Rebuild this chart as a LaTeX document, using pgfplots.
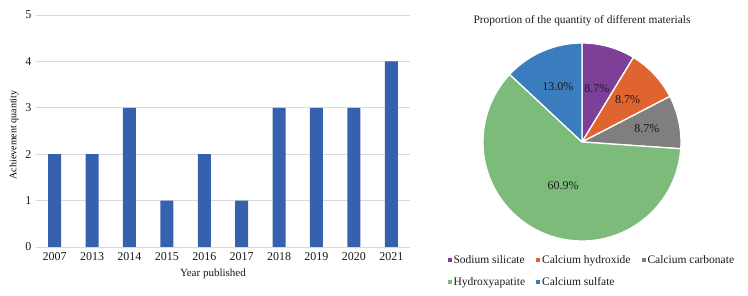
\documentclass[border=0pt]{standalone}
\usepackage{fontspec}
\setmainfont{Liberation Serif}
\usepackage{pgfplots}
\pgfplotsset{compat=1.18}
\definecolor{barblue}{HTML}{3561AF}
\definecolor{cpurp}{HTML}{7E3F98}
\definecolor{corange}{HTML}{E0642F}
\definecolor{cgray}{HTML}{7F7F7F}
\definecolor{cgreen}{HTML}{7DBB7B}
\definecolor{cblue}{HTML}{3A7DBE}
\definecolor{gridgray}{HTML}{D9D9D9}
\definecolor{txt}{HTML}{1A1A1A}
% slice: #1 cumulative start count, #2 cumulative end count, #3 colour, #4 label radius, #5 label
\newcommand\pieslice[5]{%
  \filldraw[fill=#3, draw=white, line width=1.3pt, line join=round]
    (axis cs:0,0) -- (axis cs:{cos(90-#1/23*360)},{sin(90-#1/23*360)})
    arc[start angle={90-#1/23*360}, end angle={90-#2/23*360}, radius=99pt] -- cycle;
  \node[font=\fontsize{12}{14}\selectfont, text=txt] at (axis cs:{#4*cos(90-(#1+#2)/2/23*360)},{#4*sin(90-(#1+#2)/2/23*360)}) {#5};
}
\begin{document}
\begin{tikzpicture}
\useasboundingbox (0,0) rectangle (748pt,296pt);
\begin{axis}[
  at={(36pt,49pt)}, anchor=south west,
  scale only axis, width=374pt, height=232pt,
  ybar, bar width=13pt,
  xmin=-0.5, xmax=9.5, ymin=0, ymax=5,
  xtick={0,...,9},
  xticklabels={2007,2013,2014,2015,2016,2017,2018,2019,2020,2021},
  ytick={0,...,5},
  ymajorgrids, grid style={gridgray, line width=0.8pt},
  axis x line*=bottom, axis y line*=left,
  x axis line style={gridgray, line width=0.8pt, -},
  y axis line style={draw=none},
  major tick length=0pt,
  tick style={draw=none},
  ticklabel style={font=\fontsize{12}{14}\selectfont, text=txt},
  /pgf/number format/assume math mode=true,
  xticklabel style={yshift=-2pt},
  yticklabel style={xshift=-1pt},
  xlabel={Year published},
  ylabel={Achievement quantity},
  label style={font=\fontsize{11}{13}\selectfont, text=txt},
  xlabel style={at={(axis description cs:0.473,0)}, anchor=center, yshift=-27pt},
  every axis y label/.style={at={(axis description cs:-0.059,0.483)}, anchor=center, rotate=90},
]
\addplot[fill=barblue, draw=none] coordinates {
  (0,2) (1,2) (2,3) (3,1) (4,2) (5,1) (6,3) (7,3) (8,3) (9,4)
};
\end{axis}

\begin{axis}[
  at={(582pt,154pt)}, anchor=center,
  scale only axis, width=198pt, height=198pt,
  xmin=-1, xmax=1, ymin=-1, ymax=1,
  hide axis,
  title={Proportion of the quantity of different materials},
  title style={at={(0.5,1)}, anchor=center, yshift=16pt, font=\fontsize{11.4}{13}\selectfont, text=txt},
  legend columns=3,
  legend cell align=left,
  legend image code/.code={\fill[#1, draw=none] (0pt,-2pt) rectangle (4pt,2pt);},
  legend style={at={(-0.18,-0.06)}, anchor=north west, draw=none, fill=none,
    inner sep=0pt, font=\fontsize{11.5}{13}\selectfont, text=txt,
    row sep=9pt,
    /tikz/every even column/.append style={column sep=9pt}},
]
\addlegendimage{fill=cpurp}
\addlegendentry{Sodium silicate}
\addlegendimage{fill=corange}
\addlegendentry{Calcium hydroxide}
\addlegendimage{fill=cgray}
\addlegendentry{Calcium carbonate}
\addlegendimage{fill=cgreen}
\addlegendentry{Hydroxyapatite}
\addlegendimage{fill=cblue}
\addlegendentry{Calcium sulfate}
\pieslice{0}{2}{cpurp}{0.56}{8.7\%}
\pieslice{2}{4}{corange}{0.63}{8.7\%}
\pieslice{4}{6}{cgray}{0.67}{8.7\%}
\pieslice{6}{20}{cgreen}{0.48}{60.9\%}
\pieslice{20}{23}{cblue}{0.61}{13.0\%}
\end{axis}
\end{tikzpicture}
\end{document}
